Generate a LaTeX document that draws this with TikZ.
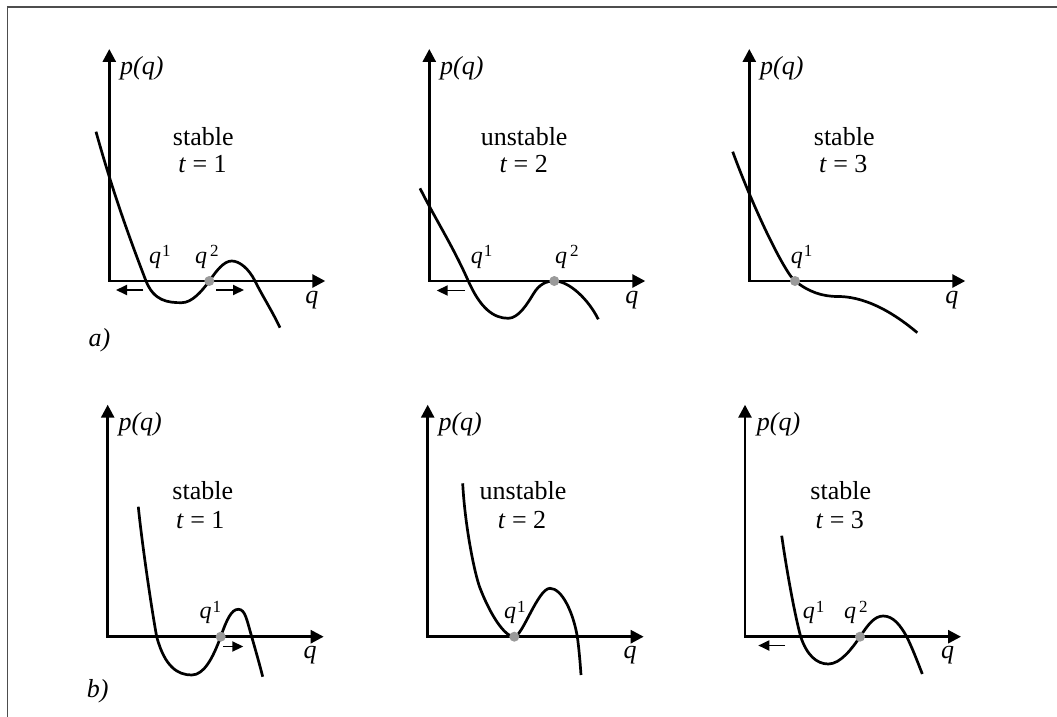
\documentclass[tikz,border=0pt]{standalone}
\usepackage{fontspec}
\setmainfont{Liberation Serif}
\usetikzlibrary{arrows.meta}
\definecolor{framegray}{HTML}{4D4D4D}
\definecolor{dotgray}{HTML}{9A9A9A}
\newcommand{\qlab}[2]{\textit{q}\kern#2\raisebox{6.5pt}{\fontsize{17}{17}\selectfont #1}}
\tikzset{
  axisline/.style={line width=2.7pt, line join=miter,
    {Triangle[length=13pt,width=13pt]}-{Triangle[length=13pt,width=13pt]}},
  curveline/.style={line width=2.7pt},
  flowarrow/.style={line width=1.9pt, -{Triangle[length=11pt,width=10pt]}},
  eqdot/.style={circle, fill=dotgray, inner sep=0pt, minimum size=10pt},
  lbl/.style={font=\fontsize{26}{30}\selectfont, inner sep=0pt},
  qlbl/.style={font=\fontsize{24}{28}\selectfont, inner sep=0pt, anchor=base west},
  framestroke/.style={draw=framegray}
}
\begin{document}
\begin{tikzpicture}[x=1pt,y=-1pt]
\useasboundingbox (0,0) rectangle (1057,717);
% frame
\draw[framestroke, line width=2pt] (6.9,7) -- (1057,7);
\draw[framestroke, line width=1.2pt] (7.5,6) -- (7.5,717);

% ================= panel 1 =================
\coordinate (o1) at (109.3,281);
\coordinate (y1) at (109.3,49);
\coordinate (x1) at (325.3,281);
\draw[axisline] (y1) -- (o1) -- (x1);
\draw[curveline] (96,131.7) .. controls (112.7,191.7) and (129.3,237.6) .. (146,281)
  .. controls (154,301) and (167.7,302.7) .. (181.7,302.7)
  .. controls (191.7,302.7) and (201.3,292) .. (209.3,281)
  .. controls (216.3,271) and (223.7,261) .. (231.7,261)
  .. controls (239.7,261) and (249,269) .. (255,281)
  .. controls (263,297) and (272,310.7) .. (280,327.7);
\coordinate (a1s) at (143.3,290); \coordinate (a1e) at (116,290);
\coordinate (b1s) at (216,290); \coordinate (b1e) at (244,290);
\draw[flowarrow] (a1s) -- (a1e);
\draw[flowarrow] (b1s) -- (b1e);
\node[eqdot] (d1) at (209.3,281) {};
\node[lbl, anchor=base west] (p1) at (120,74.5) {\textit{p(q)}};
\node[lbl, anchor=base] (q1) at (311.8,303) {\textit{q}};
\node[lbl, anchor=base] (s1) at (203.3,145) {stable};
\node[lbl, anchor=base] (t1) at (202.5,172.7) {\textit{t} = 1};
\node[qlbl] (r1a) at (149,263) {\qlab{1}{1pt}};
\node[qlbl] (r1b) at (195,263) {\qlab{2}{3pt}};
\node[lbl, anchor=base west] (la) at (88.3,346) {\textit{a)}};

% ================= panel 2 =================
\coordinate (o2) at (429.3,281);
\coordinate (y2) at (429.3,49);
\coordinate (x2) at (645.3,281);
\draw[axisline] (y2) -- (o2) -- (x2);
\draw[curveline] (420,188.3) .. controls (436,220.3) and (452.3,245) .. (468.3,281)
  .. controls (480.3,308) and (493.3,318.3) .. (508.3,318.3)
  .. controls (518.3,318.3) and (527.3,304) .. (533.3,294)
  .. controls (539.3,284) and (546.3,281) .. (554.3,281)
  .. controls (569.3,281) and (588.3,299.3) .. (598.3,319.3);
\coordinate (a2s) at (465,290.5); \coordinate (a2e) at (436.7,290.5);
\draw[flowarrow] (a2s) -- (a2e);
\node[eqdot] (d2) at (554.3,281) {};
\node[lbl, anchor=base west] (p2) at (440,74.5) {\textit{p(q)}};
\node[lbl, anchor=base] (q2) at (631.8,303) {\textit{q}};
\node[lbl, anchor=base] (s2) at (524.2,145) {unstable};
\node[lbl, anchor=base] (t2) at (523.7,172.7) {\textit{t} = 2};
\node[qlbl] (r2a) at (470.7,263) {\qlab{1}{1pt}};
\node[qlbl] (r2b) at (555,263) {\qlab{2}{3pt}};

% ================= panel 3 =================
\coordinate (o3) at (749.3,281);
\coordinate (y3) at (749.3,49);
\coordinate (x3) at (965.3,281);
\draw[axisline] (y3) -- (o3) -- (x3);
\draw[curveline] (732.7,151.7) .. controls (754.7,211.7) and (785,273) .. (795,281)
  .. controls (809,292) and (822,296.5) .. (838,296.5)
  .. controls (873,296.5) and (905.3,322.7) .. (917.3,332.7);
\node[eqdot] (d3) at (795,281) {};
\node[lbl, anchor=base west] (p3) at (760,74.5) {\textit{p(q)}};
\node[lbl, anchor=base] (q3) at (951.8,303) {\textit{q}};
\node[lbl, anchor=base] (s3) at (844.2,145) {stable};
\node[lbl, anchor=base] (t3) at (843.3,172.7) {\textit{t} = 3};
\node[qlbl] (r3a) at (790.7,263) {\qlab{1}{1pt}};

% ================= panel 4 =================
\coordinate (o4) at (107.7,636.7);
\coordinate (y4) at (107.7,404.7);
\coordinate (x4) at (323.7,636.7);
\draw[axisline] (y4) -- (o4) -- (x4);
\draw[curveline] (138.3,506.7) .. controls (142.3,546.7) and (152.7,615.7) .. (156.7,636.7)
  .. controls (164.7,666.7) and (177.7,675) .. (191.7,675)
  .. controls (203.7,675) and (212.7,658.7) .. (220.7,636.7)
  .. controls (226.7,619.7) and (231.3,609.3) .. (238.3,609.3)
  .. controls (245.3,609.3) and (246.7,619.7) .. (251.7,636.7)
  .. controls (255.7,650.7) and (259.7,664.7) .. (262.7,676.7);
\coordinate (b4s) at (223.3,646.5); \coordinate (b4e) at (243.3,646.5);
\draw[flowarrow] (b4s) -- (b4e);
\node[eqdot] (d4) at (220.7,636.7) {};
\node[lbl, anchor=base west] (p4) at (118.3,430.2) {\textit{p(q)}};
\node[lbl, anchor=base] (q4) at (310.2,658.5) {\textit{q}};
\node[lbl, anchor=base] (s4) at (202.8,499.5) {stable};
\node[lbl, anchor=base] (t4) at (200.3,528.8) {\textit{t} = 1};
\node[qlbl] (r4a) at (199.3,618.5) {\qlab{1}{1pt}};
\node[lbl, anchor=base west] (lb) at (86.7,697.7) {\textit{b)}};

% ================= panel 5 =================
\coordinate (o5) at (427.7,636.7);
\coordinate (y5) at (427.7,404.7);
\coordinate (x5) at (643.7,636.7);
\draw[axisline] (y5) -- (o5) -- (x5);
\draw[curveline] (462.7,483.3) .. controls (464.7,523.3) and (474,572) .. (480,588)
  .. controls (490,614) and (504.3,636.7) .. (514.3,636.7)
  .. controls (522.3,636.7) and (538,588.3) .. (550,588.3)
  .. controls (562,588.3) and (573.3,612.7) .. (577.3,636.7)
  .. controls (578.8,646.7) and (580.2,663) .. (581,675);
\node[eqdot] (d5) at (514.3,636.7) {};
\node[lbl, anchor=base west] (p5) at (438.3,430.2) {\textit{p(q)}};
\node[lbl, anchor=base] (q5) at (630.2,658.5) {\textit{q}};
\node[lbl, anchor=base] (s5) at (523,499.5) {unstable};
\node[lbl, anchor=base] (t5) at (522,528.8) {\textit{t} = 2};
\node[qlbl] (r5a) at (504,618.5) {\qlab{1}{1pt}};

% ================= panel 6 =================
\coordinate (o6) at (745,636.7);
\coordinate (y6) at (745,404.7);
\coordinate (x6) at (961,636.7);
\draw[axisline] (y6) -- (o6) -- (x6);
\draw[curveline] (781.7,535.7) .. controls (786.7,570.7) and (794.7,614.7) .. (800.7,636.7)
  .. controls (806.7,654.7) and (816.3,664) .. (828.3,664)
  .. controls (840.3,664) and (852,648.7) .. (860,636.7)
  .. controls (868,624.7) and (874.3,616) .. (883.3,616)
  .. controls (893.3,616) and (900.7,625.7) .. (906.7,636.7)
  .. controls (911.7,646.7) and (917.3,661) .. (922.3,674);
\coordinate (a6s) at (785,645.5); \coordinate (a6e) at (758.3,645.5);
\draw[flowarrow] (a6s) -- (a6e);
\node[eqdot] (d6) at (860,636.7) {};
\node[lbl, anchor=base west] (p6) at (756.7,430.2) {\textit{p(q)}};
\node[lbl, anchor=base] (q6) at (947.5,658.5) {\textit{q}};
\node[lbl, anchor=base] (s6) at (840.8,499) {stable};
\node[lbl, anchor=base] (t6) at (839.7,528) {\textit{t} = 3};
\node[qlbl] (r6a) at (802.7,618.5) {\qlab{1}{1pt}};
\node[qlbl] (r6b) at (844,618.5) {\qlab{2}{3pt}};
\end{tikzpicture}
\end{document}
